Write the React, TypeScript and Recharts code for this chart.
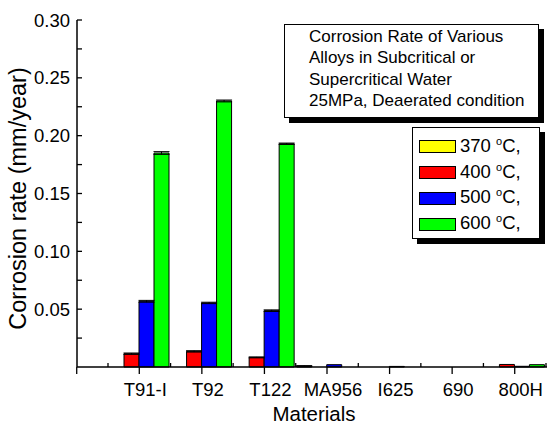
import React from 'react';
import { BarChart, Bar, XAxis, YAxis, ErrorBar, Legend, Label } from 'recharts';

// (mm/year); 0 = no bar drawn
const materials = ['T91-I', 'T92', 'T122', 'MA956', 'I625', '690', '800H'];
const temps = [370, 400, 500, 600];
const rate370 = [0, 0, 0, 0.0008, 0, 0, 0];
const rate400 = [0.0115, 0.0135, 0.0083, 0, 0, 0, 0.0022];
const rate500 = [0.0568, 0.0554, 0.0487, 0.002, 0.0005, 0, 0.0006];
const rate600 = [0.185, 0.23, 0.193, 0, 0, 0, 0.002];
const err370 = [0, 0, 0, 0.0004, 0, 0, 0];
const err400 = [0.0006, 0.0006, 0.0004, 0, 0, 0, 0];
const err500 = [0.0008, 0.0006, 0.0007, 0, 0, 0, 0];
const err600 = [0.0012, 0.0008, 0.0006, 0, 0, 0, 0];
const yTicks = [0, 0.025, 0.05, 0.075, 0.1, 0.125, 0.15, 0.175, 0.2, 0.225, 0.25, 0.275, 0.3];
const titleLines = [
  'Corrosion Rate of Various',
  'Alloys in Subcritical or',
  'Supercritical Water',
  '25MPa, Deaerated condition',
];

const colors = ['#FFFF00', '#FF0000', '#0000FF', '#00FF00'];
const font = '"Liberation Sans", Arial, sans-serif';

const data = materials.map((m, i) => ({
  material: m,
  r370: rate370[i],
  r400: rate400[i],
  r500: rate500[i],
  r600: rate600[i],
  e370: err370[i],
  e400: err400[i],
  e500: err500[i],
  e600: err600[i],
}));

const LeftTick = (props: any) => {
  const { x, y, payload } = props;
  const v = payload.value;
  const major = Math.round(v * 1000) % 50 === 0;
  if (v <= 0) return null;
  return (
    <g>
      <line x1={x} x2={x + 5} y1={y} y2={y} stroke="#000" strokeWidth={1.3} />
      {major && (
        <text x={x - 7} y={y} dy="0.36em" textAnchor="end" fontSize={18.5} fill="#000">
          {v.toFixed(2)}
        </text>
      )}
    </g>
  );
};

const BottomTick = (props: any) => {
  const { x, y, payload, index } = props;
  const half = payload.offset || 31.3;
  return (
    <g stroke="#000" strokeWidth={1.3}>
      <line x1={x} x2={x} y1={y} y2={y + 7} />
      <line x1={x - half} x2={x - half} y1={y} y2={y - 4} />
      {index === 0 && <line x1={x - 2 * half} x2={x - 2 * half} y1={y} y2={y + 7} />}
      {index === materials.length - 1 && <line x1={x + half} x2={x + half} y1={y} y2={y - 4} />}
      <text x={x + 6} y={y + 29} textAnchor="middle" fontSize={18.5} fill="#000" stroke="none">
        {payload.value}
      </text>
    </g>
  );
};

const TopTick = (props: any) => {
  const { x, y, payload, index } = props;
  const half = payload.offset || 31.3;
  return (
    <g stroke="#000" strokeWidth={1.3}>
      <line x1={x} x2={x} y1={y} y2={y + 4} />
      <line x1={x - half} x2={x - half} y1={y} y2={y + 4} />
      {index === materials.length - 1 && <line x1={x + half} x2={x + half} y1={y} y2={y + 4} />}
    </g>
  );
};

const YTitle = (props: any) => {
  const { viewBox } = props;
  const cy = viewBox.y + viewBox.height / 2 + 5;
  return (
    <text
      x={18}
      y={cy}
      transform={`rotate(-90 18 ${cy})`}
      textAnchor="middle"
      dy="0.36em"
      fontSize={23.5}
      fill="#000"
    >
      Corrosion rate (mm/year)
    </text>
  );
};

const XTitle = (props: any) => {
  const { viewBox } = props;
  return (
    <text x={314} y={viewBox.y + 54} textAnchor="middle" fontSize={20.5} fill="#000">
      Materials
    </text>
  );
};

const renderLegend = (props: any) => (
  <div style={{ padding: '6px 0 0 6px' }}>
    {(props.payload || []).map((entry: any) => (
      <div key={entry.value} style={{ display: 'flex', alignItems: 'center', height: 25.8 }}>
        <span
          style={{
            width: 37,
            height: 13,
            background: entry.color,
            border: '1px solid #000',
            boxSizing: 'border-box',
          }}
        />
        <span style={{ marginLeft: 4, fontSize: 18.5, color: '#000', lineHeight: '20px' }}>
          {entry.value}{' '}
          <sup style={{ fontSize: 11, verticalAlign: 0, position: 'relative', top: -7 }}>o</sup>
          C,
        </span>
      </div>
    ))}
  </div>
);

export default function App() {
  return (
    <div
      style={{
        position: 'absolute',
        left: 0,
        top: 0,
        width: 547,
        height: 424,
        overflow: 'hidden',
        background: '#fff',
        fontFamily: font,
      }}
    >
      <BarChart
        width={570}
        height={424}
        data={data}
        margin={{ top: 20, right: 0, left: 0, bottom: 0 }}
        barGap={0}
        barSize={15}
      >
        <XAxis
          dataKey="material"
          height={57}
          padding={{ left: 31, right: 24 }}
          axisLine={{ stroke: '#000', strokeWidth: 1.5 }}
          tickLine={false}
          tickSize={0}
          tickMargin={0}
          interval={0}
          tick={<BottomTick />}
        >
          <Label content={<XTitle />} />
        </XAxis>
        <XAxis
          xAxisId="top"
          dataKey="material"
          orientation="top"
          height={0}
          padding={{ left: 31, right: 24 }}
          axisLine={{ stroke: '#000', strokeWidth: 1.5 }}
          tickLine={false}
          tickSize={0}
          tickMargin={0}
          interval={0}
          tick={<TopTick />}
        />
        <YAxis
          width={77}
          domain={[0, 0.3]}
          ticks={yTicks}
          interval={0}
          axisLine={{ stroke: '#000', strokeWidth: 1.5 }}
          tickLine={false}
          tickSize={0}
          tickMargin={0}
          tick={<LeftTick />}
        >
          <Label content={<YTitle />} />
        </YAxis>
        <Legend
          layout="vertical"
          align="center"
          verticalAlign="middle"
          content={renderLegend}
          wrapperStyle={{
            left: 412,
            top: 127,
            width: 128,
            height: 112,
            boxSizing: 'border-box',
            border: '1px solid #000',
            background: '#fff',
            boxShadow: '5px 5px 0 #000',
          }}
        />
        {temps.map((t, i) => (
          <Bar
            key={t}
            dataKey={`r${t}`}
            name={`${t}`}
            fill={colors[i]}
            stroke="#000"
            strokeWidth={1}
            isAnimationActive={false}
          >
            <ErrorBar dataKey={`e${t}`} width={8} stroke="#000" strokeWidth={1} direction="y" />
          </Bar>
        ))}
      </BarChart>
      <div
        style={{
          position: 'absolute',
          left: 284,
          top: 24,
          width: 255,
          height: 94,
          boxSizing: 'border-box',
          border: '1px solid #000',
          background: '#fff',
          boxShadow: '5px 5px 0 #000',
          padding: '1px 0 0 24px',
          fontSize: 17,
          lineHeight: '21.3px',
          color: '#000',
        }}
      >
        {titleLines.map((l) => (
          <div key={l}>{l}</div>
        ))}
      </div>
    </div>
  );
}
